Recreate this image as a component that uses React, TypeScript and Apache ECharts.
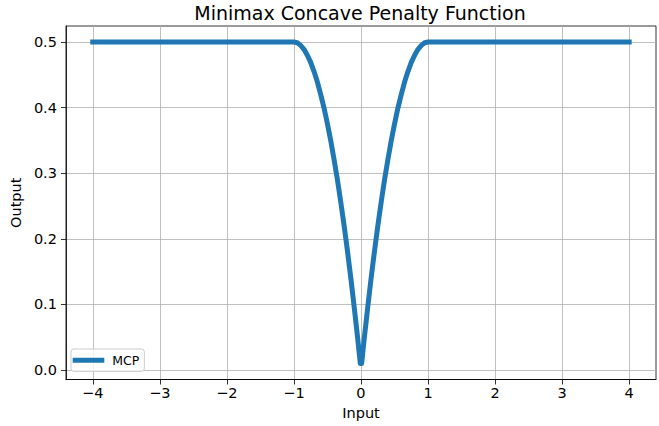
import React, { useEffect, useRef } from "react";
import * as echarts from "echarts";

const seriesName = "MCP";
const xValues = [
  -4, -1, -0.95, -0.9, -0.85, -0.8, -0.75, -0.7, -0.65, -0.6, -0.55, -0.5, -0.45, -0.4, -0.35, -0.3,
  -0.25, -0.2, -0.15, -0.1, -0.05, -0.01, 0.01, 0.05, 0.1, 0.15, 0.2, 0.25, 0.3, 0.35, 0.4, 0.45, 0.5,
  0.55, 0.6, 0.65, 0.7, 0.75, 0.8, 0.85, 0.9, 0.95, 1, 4,
];
const yValues = [
  0.5, 0.5, 0.499, 0.495, 0.489, 0.48, 0.469, 0.455, 0.439, 0.42, 0.399, 0.375, 0.349, 0.32, 0.289,
  0.255, 0.219, 0.18, 0.139, 0.095, 0.049, 0.01, 0.01, 0.049, 0.095, 0.139, 0.18, 0.219, 0.255, 0.289,
  0.32, 0.349, 0.375, 0.399, 0.42, 0.439, 0.455, 0.469, 0.48, 0.489, 0.495, 0.499, 0.5, 0.5,
];
const xTicks = [-4, -3, -2, -1, 0, 1, 2, 3, 4];
const yTicks = [0, 0.1, 0.2, 0.3, 0.4, 0.5];

const FONT = "DejaVu Sans";

export default function App() {
  const ref = useRef<HTMLDivElement>(null);
  useEffect(() => {
    const chart = echarts.init(ref.current!, null, { renderer: "svg" });
    const data = xValues.map((x, i) => [x, yValues[i]]);
    chart.setOption({
      animation: false,
      backgroundColor: "#ffffff",
      textStyle: { fontFamily: FONT },
      title: {
        text: "Minimax Concave Penalty Function",
        left: 360,
        top: 3,
        padding: 0,
        textAlign: "center",
        textStyle: { fontFamily: FONT, fontSize: 19, fontWeight: "normal", color: "#000" },
      },
      legend: {
        left: 71,
        top: 349,
        data: [seriesName],
        icon: "rect",
        itemWidth: 31.6,
        itemHeight: 5,
        itemGap: 8,
        padding: [4.2, 5, 4.2, 1.7],
        backgroundColor: "rgba(255,255,255,0.8)",
        borderColor: "#cccccc",
        borderWidth: 1,
        borderRadius: 3,
        textStyle: { fontFamily: FONT, fontSize: 12.5, lineHeight: 14, color: "#000", padding: [0, 0, 0, 3] },
      },
      grid: {
        left: 64,
        right: 3,
        top: 26,
        bottom: 46.5,
        show: true,
        borderColor: "#000",
        borderWidth: 0.8,
        backgroundColor: "transparent",
      },
      xAxis: {
        type: "value",
        min: -4.4,
        max: 4.4,
        name: "Input",
        nameLocation: "middle",
        nameGap: 25,
        nameTextStyle: { fontFamily: FONT, fontSize: 14.5, color: "#000" },
        axisLine: { show: true, onZero: false, lineStyle: { color: "#000", width: 0.8 } },
        axisTick: { show: true, inside: false, length: 5, customValues: xTicks, lineStyle: { color: "#000", width: 0.8 } },
        axisLabel: {
          customValues: xTicks,
          margin: 6,
          fontFamily: FONT,
          fontSize: 14.5,
          color: "#000",
          formatter: (v: number) => String(v).replace("-", "\u2212"),
        },
        splitLine: { show: true, lineStyle: { color: "#b0b0b0", width: 0.8 } },
      },
      yAxis: {
        type: "value",
        min: -0.0145,
        max: 0.5245,
        name: "Output",
        nameLocation: "middle",
        nameGap: 30,
        nameTextStyle: { fontFamily: FONT, fontSize: 14.5, color: "#000" },
        axisLine: { show: true, onZero: false, lineStyle: { color: "#000", width: 0.8 } },
        axisTick: { show: true, inside: false, length: 5, customValues: yTicks, lineStyle: { color: "#000", width: 0.8 } },
        axisLabel: {
          customValues: yTicks,
          margin: 9,
          fontFamily: FONT,
          fontSize: 14.5,
          color: "#000",
          formatter: (v: number) => v.toFixed(1),
        },
        splitLine: { show: true, lineStyle: { color: "#b0b0b0", width: 0.8 } },
      },
      series: [
        {
          name: seriesName,
          type: "line",
          data,
          showSymbol: false,
          smooth: false,
          color: "#1f77b4",
          lineStyle: { color: "#1f77b4", width: 5, cap: "square", join: "round" },
          z: 3,
        },
      ],
    });
    return () => chart.dispose();
  }, []);
  return <div ref={ref} style={{ position: "fixed", left: 0, top: 0, width: 659, height: 426 }} />;
}
